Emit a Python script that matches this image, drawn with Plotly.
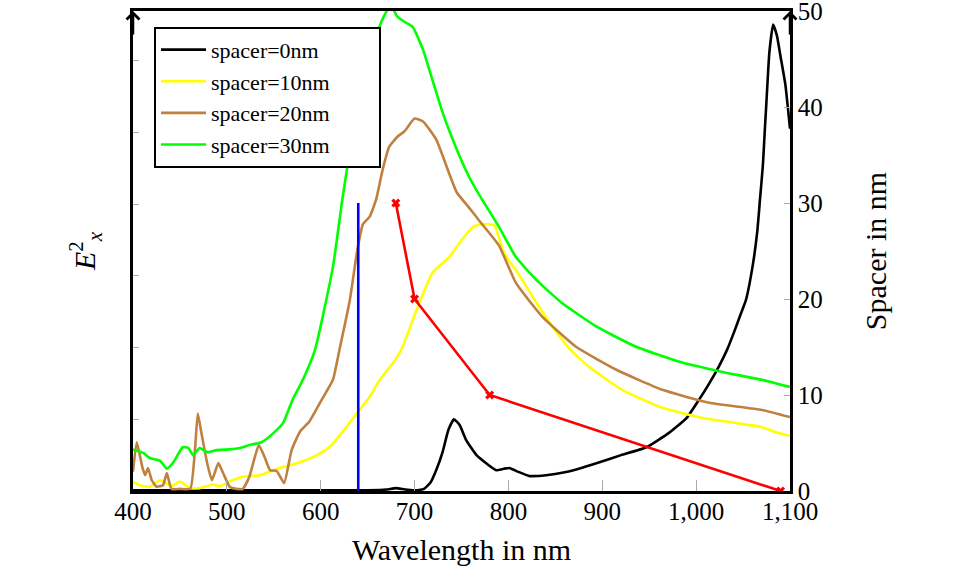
import plotly.graph_objects as go

# ---- data (left axis E_x^2 in arbitrary units, right axis spacer in nm) ----
wl_0 = [400, 450, 500, 550, 600, 650, 670, 680, 690, 700, 710, 717, 723, 730, 736, 742, 748,
        755, 766, 777, 787, 795, 801, 810, 822, 840, 860, 875, 897, 920, 947, 971, 990, 1003,
        1014, 1024, 1033, 1040, 1047, 1053, 1060, 1065, 1068, 1071, 1073, 1075, 1078, 1082,
        1086, 1090, 1095, 1100]
ex_0 = [0.01, 0.01, 0.01, 0.01, 0.01, 0.01, 0.02, 0.04, 0.02, 0.01, 0.03, 0.12, 0.29, 0.55,
        0.85, 1.0, 0.92, 0.71, 0.50, 0.38, 0.29, 0.31, 0.32, 0.27, 0.21, 0.22, 0.26, 0.31,
        0.40, 0.50, 0.61, 0.81, 1.02, 1.27, 1.50, 1.73, 1.97, 2.20, 2.45, 2.66, 3.12, 3.60,
        4.06, 4.52, 4.99, 5.45, 6.11, 6.50, 6.35, 6.05, 5.67, 5.05]

wl_10 = [400, 407, 418, 429, 441, 450, 461, 471, 485, 493, 506, 517, 535, 556, 578, 596, 610,
         623, 639, 652, 663, 679, 687, 702, 719, 737, 748, 762, 772, 785, 794, 801, 808, 830,
         847, 866, 886, 921, 964, 1006, 1056, 1070, 1085, 1100]
ex_10 = [0.13, 0.08, 0.06, 0.15, 0.07, 0.13, 0.04, 0.04, 0.09, 0.07, 0.15, 0.20, 0.22, 0.32,
         0.40, 0.50, 0.62, 0.82, 1.09, 1.31, 1.55, 1.82, 2.0, 2.52, 3.04, 3.26, 3.46, 3.68,
         3.72, 3.70, 3.36, 3.20, 3.08, 2.62, 2.29, 1.97, 1.73, 1.41, 1.16, 1.02, 0.92, 0.89,
         0.82, 0.77]

wl_20 = [400, 404, 410, 413, 416, 420, 425, 432, 436, 441, 450, 461, 466, 469, 473, 479, 484,
         487, 491, 496, 503, 510, 517, 524, 534, 540, 546, 553, 561, 569, 578, 588, 601, 613,
         620, 631, 639, 645, 652, 659, 666, 673, 682, 689, 700, 709, 723, 737, 745, 758, 770,
         790, 808, 836, 872, 915, 964, 1014, 1070, 1100]
ex_20 = [0.27, 0.68, 0.33, 0.22, 0.32, 0.15, 0.06, 0.08, 0.25, 0.03, 0.03, 0.03, 0.57, 1.08,
         0.80, 0.39, 0.15, 0.25, 0.39, 0.25, 0.06, 0.03, 0.03, 0.20, 0.64, 0.48, 0.29, 0.28,
         0.11, 0.57, 0.83, 0.97, 1.27, 1.55, 1.97, 2.66, 3.36, 3.72, 3.82, 4.06, 4.48, 4.80,
         4.94, 5.01, 5.19, 5.15, 4.90, 4.42, 4.16, 3.95, 3.75, 3.42, 2.90, 2.43, 2.01, 1.69,
         1.41, 1.23, 1.13, 1.03]

wl_30 = [400, 411, 418, 429, 436, 443, 453, 459, 464, 471, 479, 489, 503, 514, 524, 537, 549,
         560, 570, 581, 594, 613, 623, 629, 640, 650, 658, 665, 671, 675, 678, 681, 689, 698,
         709, 719, 730, 745, 758, 772, 790, 808, 830, 857, 894, 936, 985, 1028, 1070, 1100]
ex_30 = [0.58, 0.53, 0.46, 0.42, 0.31, 0.40, 0.61, 0.60, 0.50, 0.60, 0.54, 0.57, 0.58, 0.60,
         0.64, 0.68, 0.80, 0.95, 1.27, 1.55, 1.97, 3.12, 4.06, 4.57, 5.35, 5.95, 6.30, 6.55,
         6.70, 6.72, 6.70, 6.62, 6.54, 6.47, 6.15, 5.73, 5.27, 4.76, 4.38, 4.06, 3.68, 3.26,
         2.94, 2.62, 2.29, 2.01, 1.79, 1.66, 1.55, 1.45]

spacer_wl = [680, 700, 780, 1090]
spacer_nm = [30, 20, 10, 0]

marker_wl = [640, 640]
marker_nm = [0, 30]

series = [
    ("spacer=0nm", wl_0, ex_0, "#000000"),
    ("spacer=10nm", wl_10, ex_10, "#ffff00"),
    ("spacer=20nm", wl_20, ex_20, "#bf8040"),
    ("spacer=30nm", wl_30, ex_30, "#00ff00"),
]

FONT = "Liberation Serif"
PAD = "&nbsp;" * 8

fig = go.Figure()
for name, x, y, c in series:
    fig.add_trace(go.Scatter(x=x, y=y, name=name + PAD, mode="lines",
                             line=dict(color=c, width=2.6, shape="spline", smoothing=0.45),
                             yaxis="y"))

fig.add_trace(go.Scatter(x=spacer_wl, y=spacer_nm, mode="lines+markers", showlegend=False,
                         line=dict(color="#ff0000", width=2.6),
                         marker=dict(symbol="x", size=8, color="#ff0000"),
                         yaxis="y2"))
fig.add_trace(go.Scatter(x=marker_wl, y=marker_nm, mode="lines", showlegend=False,
                         line=dict(color="#0000ff", width=2.6), yaxis="y2"))

fig.update_layout(
    width=960, height=566,
    margin=dict(l=133, r=170, t=11, b=75),
    paper_bgcolor="white", plot_bgcolor="white",
    font=dict(family=FONT, size=25, color="black"),
    separators=".,",
    xaxis=dict(range=[400, 1100], dtick=100, tick0=400, tickformat=",d",
               showline=True, linecolor="black", linewidth=2.5, mirror=True,
               ticks="inside", ticklen=11, tickcolor="#aaaaaa", tickwidth=1,
               ticklabelstandoff=-4, ticklabeloverflow="allow",
               showgrid=False, zeroline=False, automargin=False,
               title=dict(text="Wavelength in nm", standoff=16)),
    yaxis=dict(range=[0, 6.69], dtick=1, tick0=0, showticklabels=False,
               showline=True, linecolor="black", linewidth=2.5,
               ticks="inside", ticklen=6, tickcolor="#aaaaaa", tickwidth=1,
               showgrid=False, zeroline=False, automargin=False,
               title=dict(text="<i>E</i><sup>2</sup><sub><i>x</i></sub>", standoff=26)),
    yaxis2=dict(range=[0, 50], dtick=10, tick0=0, overlaying="y", side="right",
                showline=True, linecolor="black", linewidth=2.5,
                ticks="inside", ticklen=6, tickcolor="#aaaaaa", tickwidth=1,
                ticklabeloverflow="allow",
                showgrid=False, zeroline=False, automargin=False,
                title=dict(text="Spacer in nm", standoff=44)),
    legend=dict(x=0.032, y=0.967, xanchor="left", yanchor="top",
                bgcolor="white", bordercolor="black", borderwidth=2,
                font=dict(family=FONT, size=22), itemwidth=45,
                tracegroupgap=0),
    annotations=[
        dict(x=0, y=1, xref="paper", yref="paper", ax=0, ay=25, showarrow=True,
             arrowhead=4, arrowsize=1, arrowwidth=2.5, arrowcolor="black", text=""),
        dict(x=1, y=1, xref="paper", yref="paper", ax=0, ay=25, showarrow=True,
             arrowhead=4, arrowsize=1, arrowwidth=2.5, arrowcolor="black", text=""),
    ],
)

fig.write_html("out.html", config={"displayModeBar": False},
               post_script="document.body.style.margin='0';")
